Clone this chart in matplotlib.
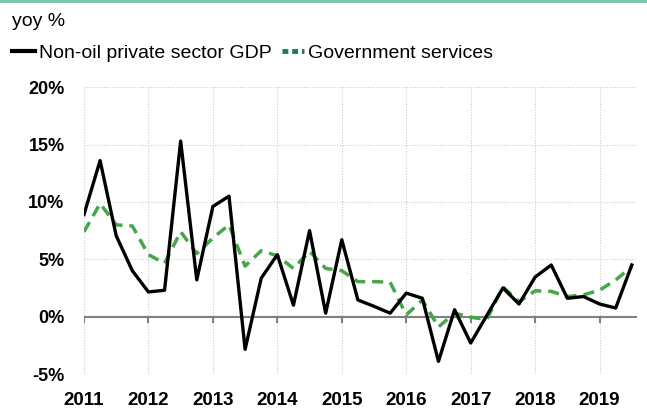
import numpy as np
import matplotlib.pyplot as plt
from matplotlib.lines import Line2D

# Quarterly yoy growth, 2011Q1 - 2019Q3
private_gdp = [8.9, 13.6, 7.05, 4.0, 2.15, 2.3, 15.3, 3.2, 9.6, 10.5, -2.85, 3.35,
               5.4, 1.0, 7.5, 0.3, 6.7, 1.45, 0.9, 0.3, 2.05, 1.6, -3.9, 0.6,
               -2.3, 0.1, 2.5, 1.1, 3.45, 4.5, 1.6, 1.75, 1.1, 0.75, 4.5]
gov_services = [7.4, 9.85, 8.0, 7.9, 5.4, 4.65, 7.4, 5.5, 6.85, 8.0, 4.4, 5.75,
                5.3, 4.2, 5.7, 4.2, 4.0, 3.05, 3.05, 3.0, 0.15, 1.45, -0.9, 0.3,
                -0.05, -0.25, 2.6, 1.3, 2.25, 2.2, 1.75, 1.9, 2.3, 3.2, 4.35]
years = list(range(2011, 2020))
y_ticks = [-5, 0, 5, 10, 15, 20]

quarters = 2011 + np.arange(len(private_gdp)) / 4

plt.rcParams['font.family'] = ['Liberation Sans', 'DejaVu Sans']

fig = plt.figure(figsize=(6.47, 4.11), dpi=100)
ax = fig.add_axes([0.1298, 0.090, 0.8547, 0.698])

green = '#45a64a'
ax.plot(quarters, gov_services, color=green, lw=2.5, ls=(0, (3.2, 2.0)), zorder=3)
ax.plot(quarters, private_gdp, color='black', lw=2.4, zorder=4)

ax.set_xlim(2011, 2019.58)
ax.set_ylim(-5, 20)
ax.set_yticks(y_ticks)
ax.set_yticklabels([f'{v}%' for v in y_ticks], fontsize=13, fontweight='bold')
ax.set_xticks(years)
ax.set_xticklabels([str(y) for y in years], fontsize=13.5, fontweight='bold')
ax.tick_params(length=0)
ax.tick_params(axis='x', pad=13)
ax.tick_params(axis='y', pad=14)

ax.grid(True, color='#cccccc', ls=(0, (1, 1.5)), lw=0.8)
for s in ax.spines.values():
    s.set_visible(False)
ax.axhline(0, color='#808080', lw=1.5, zorder=2)
for y in years:
    ax.plot([y, y], [0, -0.5], color='#808080', lw=1.5, zorder=2)

# header
fig.add_artist(Line2D([0, 1], [0.997, 0.997], transform=fig.transFigure,
                      color='#7cc4b1', lw=3))
fig.text(12 / 647, 1 - 21 / 411, 'yoy %', fontsize=14, va='center', ha='left')
handles = [Line2D([], [], color='black', lw=3),
           Line2D([], [], color='#1f7a55', lw=3.5, ls=(0, (1.2, 0.8)))]
fig.legend(handles, ['Non-oil private sector GDP', 'Government services'],
           loc='center left', bbox_to_anchor=(0.004, 1 - 53 / 411), ncol=2,
           frameon=False, fontsize=14, handlelength=1.15, handletextpad=0.2,
           columnspacing=0.55, borderpad=0.2, borderaxespad=0.3)

fig.savefig('out.png', dpi=100)
